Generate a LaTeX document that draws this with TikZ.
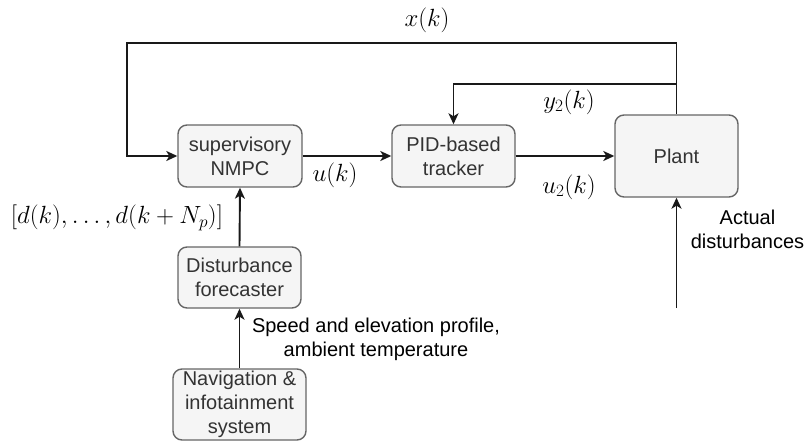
\documentclass[tikz,border=0pt]{standalone}
\usepackage{fontspec}
\setmainfont{Liberation Sans}
\usetikzlibrary{arrows.meta,calc}
\definecolor{boxfill}{HTML}{F5F5F5}
\definecolor{boxline}{HTML}{666666}
\definecolor{boxtext}{HTML}{333333}
\begin{document}
\begin{tikzpicture}[x=1pt,y=-1pt,
  blk/.style={draw=boxline,fill=boxfill,line width=1.4pt,rounded corners=9pt,
    inner sep=0pt,align=center,text=boxtext,font=\fontsize{20}{24}\selectfont},
  arr/.style={line width=1.9pt,draw=black!90,-{Stealth[length=11pt,width=10pt,inset=3pt]}},
  lbl/.style={inner sep=0pt,font=\fontsize{20}{24.5}\selectfont,align=center},
  mlbl/.style={inner sep=0pt,font=\fontsize{23.5}{28}\selectfont}]
\useasboundingbox (0,0) rectangle (806,442);
\node[blk,minimum width=124pt,minimum height=62pt] (nmpc) at (240,156) {supervisory\\NMPC};
\node[blk,minimum width=123pt,minimum height=62pt] (pid) at (453.5,156) {PID-based\\tracker};
\node[blk,minimum width=123pt,minimum height=82pt] (plant) at (676.5,156) {Plant};
\node[blk,minimum width=123pt,minimum height=61pt] (dist) at (239.5,277.5) {Disturbance\\forecaster};
\node[blk,minimum width=133pt,minimum height=71pt] (nav) at (239.5,404.5) {Navigation \&\\infotainment\\system};
\coordinate (tl) at (127,43);
\coordinate (yb) at (676.5,84);
\coordinate (din) at (676.5,308);
% connectors
\draw[arr] (plant.north) |- (tl) |- (nmpc.west);
\draw[arr] (yb) -| (pid.north);
\draw[arr] (nmpc.east) -- (pid.west);
\draw[arr] (pid.east) -- (pid.east -| plant.west);
\draw[arr] (dist.north) -- (nmpc.south);
\draw[arr] (nav.north) -- (dist.south);
\draw[arr] (din) -- (plant.south);
% labels
\node[mlbl] (lx) at (427,20) {$x(k)$};
\node[mlbl] (ly) at (569,102) {$y_2(k)$};
\node[mlbl] (lu) at (335,175) {$u(k)$};
\node[mlbl] (lu2) at (569,187) {$u_2(k)$};
\node[mlbl] (ld) at (117,218) {$[d(k),\ldots,d(k+N_p)]$};
\node[lbl] (lsp) at (376,339.5) {Speed and elevation profile,\\ambient temperature};
\node[lbl] (lad) at (747.5,229.5) {Actual\\disturbances};
\end{tikzpicture}
\end{document}
